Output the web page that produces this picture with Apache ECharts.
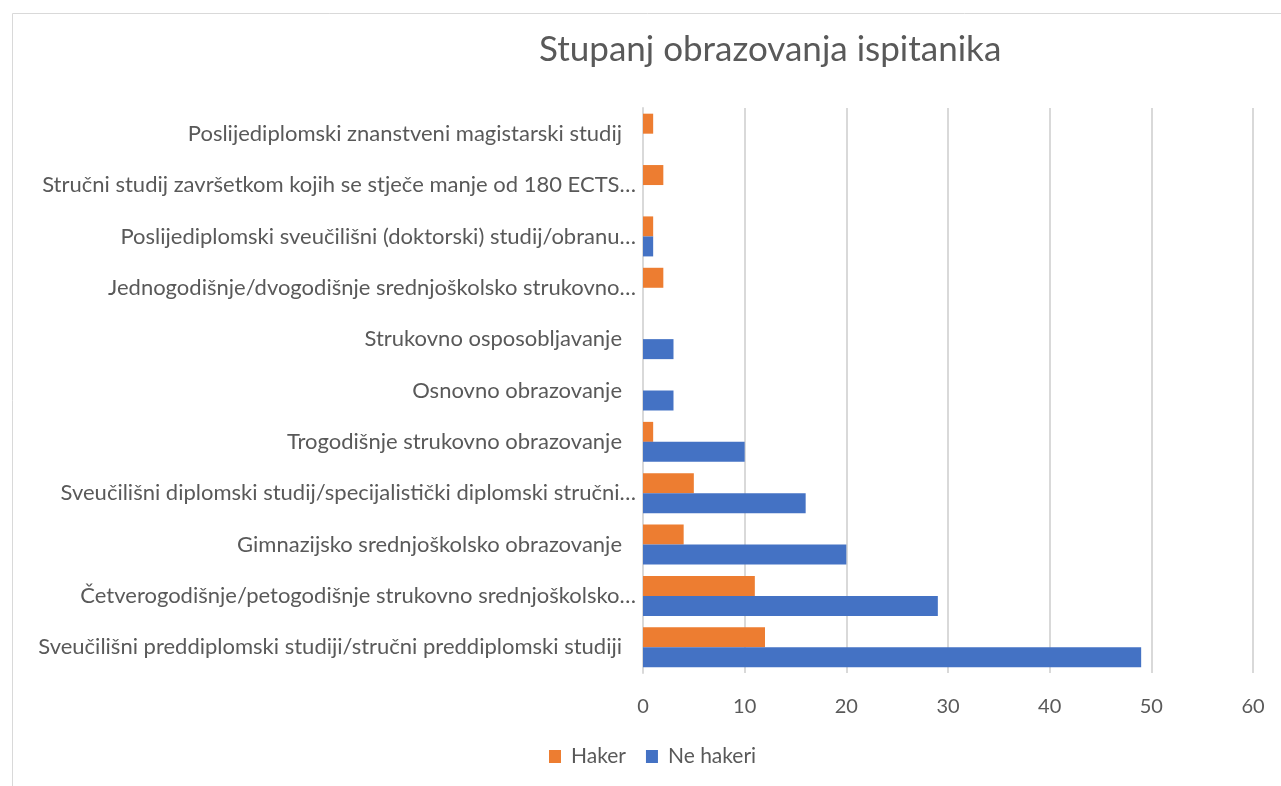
<!DOCTYPE html>
<html>
<head>
<meta charset="utf-8">
<script src="https://cdn.jsdelivr.net/npm/echarts@6/dist/echarts.min.js"></script>
<style>
  html, body { margin: 0; padding: 0; background: #fff; }
  #chart { width: 1281px; height: 786px; }
</style>
</head>
<body>
<div id="chart"></div>
<script>
// categories bottom -> top (as in the picture)
const categories = [
  'Sveučilišni preddiplomski studiji/stručni preddiplomski studiji',
  'Četverogodišnje/petogodišnje strukovno srednjoškolsko…',
  'Gimnazijsko srednjoškolsko obrazovanje',
  'Sveučilišni diplomski studij/specijalistički diplomski stručni…',
  'Trogodišnje strukovno obrazovanje',
  'Osnovno obrazovanje',
  'Strukovno osposobljavanje',
  'Jednogodišnje/dvogodišnje srednjoškolsko strukovno…',
  'Poslijediplomski sveučilišni (doktorski) studij/obranu…',
  'Stručni studij završetkom kojih se stječe manje od 180 ECTS…',
  'Poslijediplomski znanstveni magistarski studij',
]
const haker = [12, 11, 4, 5, 1, 0, 0, 2, 1, 2, 1]
const neHakeri = [49, 29, 20, 16, 10, 3, 3, 0, 1, 0, 0]
const xTicks = { min: 0, max: 60, interval: 10 }

const fontFamily = 'Lato, "Open Sans", sans-serif'
const textColor = '#595959'
const gridColor = '#d9d9d9'

const myChart = echarts.init(document.getElementById('chart'))

myChart.setOption({
  animation: false,
  title: {
    text: 'Stupanj obrazovanja ispitanika',
    left: 534,
    top: 27,
    textStyle: {
      color: textColor,
      fontFamily,
      fontSize: 35,
      fontWeight: 'normal',
    },
  },
  graphic: [
    {
      type: 'rect',
      left: 10,
      top: 11,
      shape: { width: 1300, height: 800 },
      style: { fill: 'none', stroke: gridColor, lineWidth: 1 },
      silent: true,
    },
  ],
  legend: {
    data: ['Haker', 'Ne hakeri'],
    left: 549,
    top: 746,
    padding: 0,
    itemWidth: 12,
    itemHeight: 13,
    itemGap: 20,
    icon: 'rect',
    textStyle: {
      color: textColor,
      fontFamily,
      fontSize: 21,
      padding: [0, 0, 0, 5],
    },
  },
  grid: {
    left: 643,
    right: 28,
    top: 108,
    bottom: 113,
    containLabel: false,
  },
  xAxis: {
    type: 'value',
    min: xTicks.min,
    max: xTicks.max,
    interval: xTicks.interval,
    axisLine: { show: false },
    axisTick: { show: false },
    splitLine: { show: true, lineStyle: { color: gridColor, width: 2 } },
    axisLabel: {
      color: textColor,
      fontFamily,
      fontSize: 20,
      margin: 24,
    },
  },
  yAxis: {
    type: 'category',
    data: categories,
    axisLine: { show: true, lineStyle: { color: gridColor, width: 2 } },
    axisTick: { show: false },
    axisLabel: {
      color: textColor,
      fontFamily,
      fontSize: 22,
      margin: 7,
      // labels that are not cut off sit a little further from the axis
      formatter: (value) => (value.endsWith('…') ? value : '{full|' + value + '}'),
      rich: {
        full: {
          color: textColor,
          fontFamily,
          fontSize: 22,
          padding: [0, 14, 0, 0],
        },
      },
    },
  },
  series: [
    {
      name: 'Haker',
      type: 'bar',
      data: haker,
      color: '#ED7D31',
      barWidth: 20,
      barGap: '0%',
    },
    {
      name: 'Ne hakeri',
      type: 'bar',
      data: neHakeri,
      color: '#4472C4',
      barWidth: 20,
      barGap: '0%',
    },
  ],
})
</script>
</body>
</html>
